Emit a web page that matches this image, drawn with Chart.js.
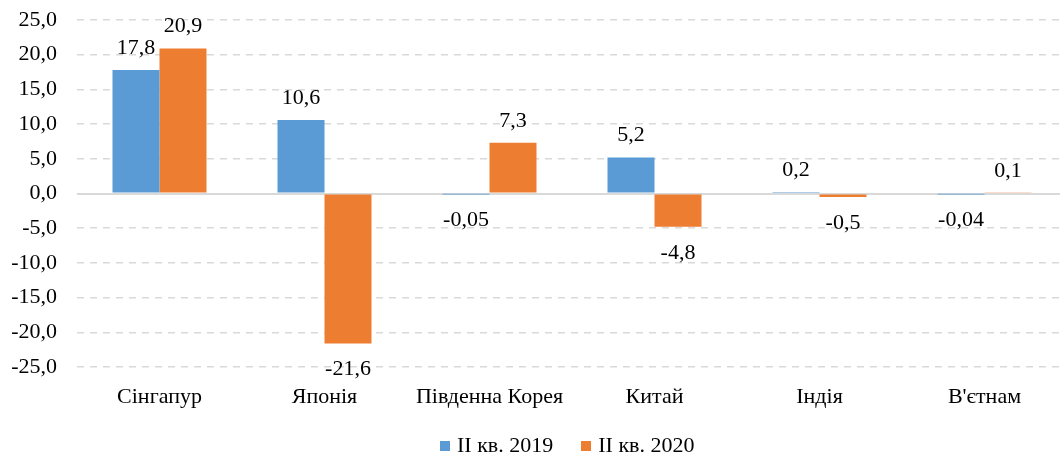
<!DOCTYPE html>
<html>
<head>
<meta charset="utf-8">
<script src="https://cdn.jsdelivr.net/npm/chart.js@4/dist/chart.umd.min.js"></script>
<style>
  html, body { margin: 0; padding: 0; background: #fff; overflow: hidden; }
  #wrap { position: relative; width: 1067px; height: 458px; }
  #legend { position: absolute; left: 440px; top: 434px; line-height: 22px;
            font-family: 'Liberation Serif', 'Times New Roman', serif; font-size: 22px; color: #000;
            white-space: nowrap; }
  #legend span.item { display: inline-block; margin-right: 28px; }
  #legend span.box { display: inline-block; width: 10px; height: 10px; margin-right: 7px; vertical-align: 1px; }
</style>
</head>
<body>
<div id="wrap">
  <canvas id="c" width="1067" height="458"></canvas>
  <div id="legend"></div>
</div>
<script>
const categories = ['Сінгапур', 'Японія', 'Південна Корея', 'Китай', 'Індія', "В'єтнам"];
const seriesNames = ['II кв. 2019', 'II кв. 2020'];
const values2019 = [17.8, 10.6, -0.05, 5.2, 0.2, -0.04];
const values2020 = [20.9, -21.6, 7.3, -4.8, -0.5, 0.1];
const labels2019 = ['17,8', '10,6', '-0,05', '5,2', '0,2', '-0,04'];
const labels2020 = ['20,9', '-21,6', '7,3', '-4,8', '-0,5', '0,1'];
const yMin = -25, yMax = 25, yStep = 5;
const colors = ['#5B9BD5', '#ED7D31'];

const FONT = "'Liberation Serif', 'Times New Roman', serif";
const FS = 22;

const dataLabelPlugin = {
  id: 'dataLabels',
  afterDatasetsDraw(chart) {
    const ctx = chart.ctx;
    const lbls = [labels2019, labels2020];
    ctx.save();
    ctx.font = FS + 'px ' + FONT;
    ctx.fillStyle = '#000';
    ctx.textAlign = 'center';
    ctx.textBaseline = 'alphabetic';
    chart.data.datasets.forEach((ds, di) => {
      const meta = chart.getDatasetMeta(di);
      meta.data.forEach((bar, i) => {
        const v = ds.data[i];
        const zeroY = chart.scales.y.getPixelForValue(0);
        let y;
        if (v >= 0) {
          y = Math.min(bar.y, zeroY) - 16;
        } else {
          y = Math.max(bar.y, zeroY) + 17 + 15;
        }
        ctx.fillText(lbls[di][i], bar.x, y);
      });
    });
    ctx.restore();
  }
};

const chart = new Chart(document.getElementById('c'), {
  type: 'bar',
  data: {
    labels: categories,
    datasets: [
      { label: seriesNames[0], data: values2019, backgroundColor: colors[0], borderWidth: 0 },
      { label: seriesNames[1], data: values2020, backgroundColor: colors[1], borderWidth: 0 }
    ]
  },
  options: {
    responsive: false,
    animation: false,
    devicePixelRatio: 1,
    layout: { padding: { top: 20, right: 0, bottom: 0, left: 0 } },
    datasets: { bar: { categoryPercentage: 94 / 165, barPercentage: 1 } },
    plugins: {
      legend: { display: false },
      tooltip: { enabled: false }
    },
    scales: {
      x: {
        grid: { display: false, drawTicks: false },
        border: { display: false },
        ticks: { color: '#000', font: { family: FONT, size: FS }, padding: 17, maxRotation: 0, autoSkip: false },
        afterFit(scale) { scale.height = 91; }
      },
      y: {
        min: yMin, max: yMax,
        grid: {
          drawTicks: false,
          color: '#d9d9d9',
          lineWidth: (ctx) => (ctx.tick && ctx.tick.value === 0) ? 2 : 1.5
        },
        border: {
          display: false,
          dash: (ctx) => (ctx.tick && ctx.tick.value === 0) ? [] : [7, 6]
        },
        ticks: {
          stepSize: yStep,
          color: '#000',
          font: { family: FONT, size: FS },
          padding: 20,
          callback: (v) => v.toFixed(1).replace('.', ',')
        },
        afterFit(scale) { scale.width = 77; scale.paddingTop = 0; scale.paddingBottom = 0; }
      }
    }
  },
  plugins: [dataLabelPlugin]
});

const legend = document.getElementById('legend');
chart.data.datasets.forEach((ds) => {
  const item = document.createElement('span');
  item.className = 'item';
  const box = document.createElement('span');
  box.className = 'box';
  box.style.background = ds.backgroundColor;
  item.appendChild(box);
  item.appendChild(document.createTextNode(ds.label));
  legend.appendChild(item);
});
</script>
</body>
</html>
